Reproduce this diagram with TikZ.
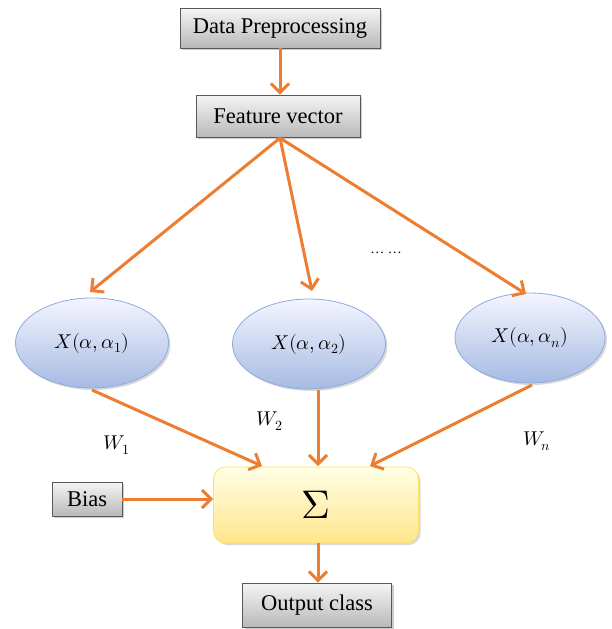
\documentclass[tikz,border=0pt]{standalone}
\usepackage{fontspec}
\usepackage{unicode-math}
\setmainfont{Liberation Serif}
\setmathfont{Latin Modern Math}
\usetikzlibrary{arrows.meta,shadows,shapes.geometric}
\definecolor{arr}{RGB}{237,125,49}
\definecolor{ellb}{RGB}{143,170,220}
\tikzset{
  graybox/.style={draw=gray!70!black, line width=0.8pt, top color=gray!8, bottom color=gray!55,
    drop shadow={shadow xshift=2pt,shadow yshift=-2pt,opacity=0.4}, minimum height=#1, inner sep=0pt,
    font=\fontsize{22.5}{26}\selectfont},
  ellnode/.style={ellipse, draw=ellb, line width=0.8pt, top color=blue!4, bottom color=ellb!80,
    drop shadow={shadow xshift=2pt,shadow yshift=-2pt,opacity=0.3}, inner sep=0pt,
    minimum width=153pt, minimum height=90pt, font=\fontsize{20}{24}\selectfont},
  sumbox/.style={draw=yellow!70!orange!60, line width=0.8pt, rounded corners=12pt,
    top color=yellow!10, bottom color=yellow!55!orange!45,
    drop shadow={shadow xshift=2pt,shadow yshift=-2pt,opacity=0.3},
    minimum width=205pt, minimum height=76pt, inner sep=0pt},
  conn/.style={draw=arr, line width=3pt, -{Straight Barb[length=9pt,width=18pt,line width=3pt]}},
  wlabel/.style={font=\fontsize{20}{24}\selectfont}
}
\begin{document}
\begin{tikzpicture}[x=1pt,y=-1pt]
\useasboundingbox (0,0) rectangle (611,629);
\node[graybox=40pt, minimum width=200pt] (dp) at (280,28) {Data Preprocessing};
\node[graybox=42pt, minimum width=164pt] (fv) at (278,116) {Feature vector};
\node[ellnode] (e1) at (92,343) {$X(\alpha,\alpha_1)$};
\node[ellnode] (e2) at (309,344) {$X(\alpha,\alpha_2)$};
\node[ellnode, minimum width=150pt] (e3) at (530,338) {$X(\alpha,\alpha_n)$};
\node[sumbox] (s) at (316,505) {\fontsize{40}{44}\selectfont$\Sigma$};
\node[graybox=34pt, minimum width=70pt] (b) at (87,499) {Bias};
\node[graybox=44pt, minimum width=149pt] (o) at (317,605) {Output class};
\node[wlabel] (w1) at (117,445) {$W_1$};
\node[wlabel] (w2) at (270,421) {$W_2$};
\node[wlabel] (wn) at (537,441) {$W_n$};
\node[font=\fontsize{14}{16}\selectfont] (dots) at (386,253) {\dots\ \dots};
\coordinate (fvb) at (280,138);
\draw[conn] (dp.south -| 280,0) -- (fv.north -| 280,0);
\draw[conn] (fvb) -- (90,292);
\draw[conn] (fvb) -- (312,291);
\draw[conn] (fvb) -- (526,294);
\draw[conn] (92,390) -- (262,466);
\draw[conn] (318,390) -- (318,466);
\draw[conn] (532,385) -- (370,466);
\draw[conn] (b.east) -- (s.west |- b.east);
\draw[conn] (s.south -| 318,0) -- (o.north -| 318,0);
\end{tikzpicture}
\end{document}
